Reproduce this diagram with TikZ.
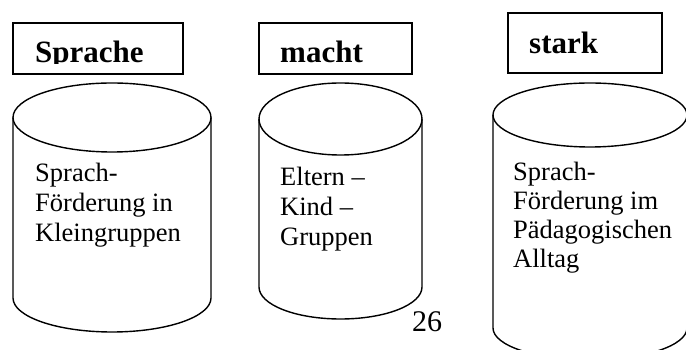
\documentclass[tikz,border=0pt]{standalone}
\usepackage{fontspec}
\setmainfont{Liberation Serif}
\usetikzlibrary{positioning}

\begin{document}
\begin{tikzpicture}[x=1pt,y=1pt,
		titlebox/.style={draw,line width=1.3pt,inner sep=0pt},
		titletext/.style={anchor=base west,inner sep=0pt,font=\fontsize{31}{36}\selectfont\bfseries},
		cantext/.style={anchor=base west,inner sep=0pt,align=left,font=\fontsize{26.5}{30}\selectfont},
		canline/.style={line width=1.4pt}]
		\useasboundingbox (0,0) rectangle (686,350);

		% Title boxes (the words are cut off at the bottom)
		\node[titlebox,minimum width=170pt,minimum height=51pt]   (box1) at (98,301.5)  {};
		\node[titlebox,minimum width=153pt,minimum height=51pt]   (box2) at (335.5,301.5) {};
		\node[titlebox,minimum width=154pt,minimum height=60pt]   (box3) at (585,307)   {};
		\begin{scope}
			\clip (box1.north west) rectangle (box2.east |- 0,286.5);
			\node[titletext] (sprache) at (35,287.5)  {Sprache};
			\node[titletext] (macht)   at (280,287.5) {macht};
		\end{scope}
		\node[titletext] (stark) at (529,296.7) {stark};

		% Cans: centre x / x radius / top y / top y radius / side end / bottom y radius
		\foreach \cx/\rx/\ty/\ry/\by/\rb in {112/99/232.5/34.5/52/34,
				340.5/81.5/231/36/63/32, 590/97/235/32/22/32} {
			\draw[canline] (\cx,\ty) ellipse [x radius=\rx,y radius=\ry];
			\draw[canline] (\cx-\rx,\ty) -- (\cx-\rx,\by)
				arc[start angle=180,end angle=360,x radius=\rx,y radius=\rb]
				-- (\cx+\rx,\ty);
		}

		% Texts in the cans (placed by the baseline of the last line)
		\node[cantext] (kleingr) at (35,108)  {Sprach-\\Förderung in\\Kleingruppen};
		\node[cantext] (eltern)  at (280,104) {Eltern –\\Kind –\\Gruppen};
		\node[cantext,font=\fontsize{26.5}{29}\selectfont] (alltag) at (513,82)
			{Sprach-\\Förderung im\\Pädagogischen\\Alltag};

		% Page number
		\node[anchor=base west,inner sep=0pt,font=\fontsize{30}{36}\selectfont] (page) at (412,18) {26};
	\end{tikzpicture}
\end{document}
